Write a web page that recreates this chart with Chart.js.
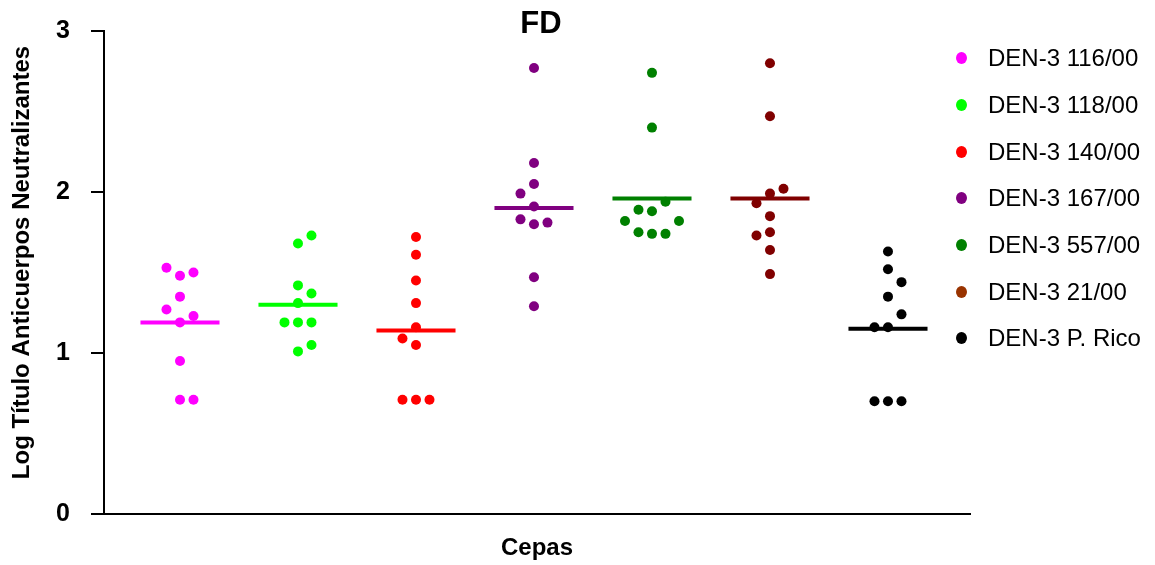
<!DOCTYPE html>
<html>
<head>
<meta charset="utf-8">
<script src="https://cdn.jsdelivr.net/npm/chart.js@4.4.0/dist/chart.umd.min.js"></script>
<style>
  body { margin: 0; background: #fff; }
  #wrap { position: relative; width: 1155px; height: 565px; }
  #legend { position: absolute; left: 956px; top: 35px; font-family: "Liberation Sans", Arial, sans-serif; font-size: 24px; color: #000; }
  .item { height: 46.7px; display: flex; align-items: center; }
  .dot { width: 11px; height: 12px; border-radius: 50%; margin-right: 21px; }
</style>
</head>
<body>
<div id="wrap">
  <canvas id="myChart" width="1155" height="565"></canvas>
  <div id="legend"></div>
</div>
<script>
const cepas = ['DEN-3 116/00', 'DEN-3 118/00', 'DEN-3 140/00', 'DEN-3 167/00', 'DEN-3 557/00', 'DEN-3 21/00', 'DEN-3 P. Rico'];

// log titres per strain
const den116 = [1.53, 1.48, 1.50, 1.35, 1.27, 1.23, 1.19, 0.95, 0.71, 0.71];
const den118 = [1.73, 1.68, 1.42, 1.37, 1.31, 1.19, 1.19, 1.19, 1.05, 1.01];
const den140 = [1.72, 1.61, 1.45, 1.31, 1.16, 1.09, 1.05, 0.71, 0.71, 0.71];
const den167 = [2.77, 2.18, 2.05, 1.99, 1.91, 1.83, 1.81, 1.80, 1.47, 1.29];
const den557 = [2.74, 2.40, 1.94, 1.89, 1.88, 1.82, 1.82, 1.75, 1.74, 1.74];
const den21 = [2.80, 2.47, 2.02, 1.99, 1.93, 1.85, 1.75, 1.73, 1.64, 1.49];
const denPR = [1.63, 1.52, 1.44, 1.35, 1.24, 1.16, 1.16, 0.70, 0.70, 0.70];

const medianas = [1.19, 1.30, 1.14, 1.90, 1.96, 1.96, 1.15];
const yTicks = [0, 1, 2, 3];

// side slot of each dot (dot plot spreading), -2..2
const jit116 = [-1, 0, 1, 0, -1, 1, 0, 0, 0, 1];
const jit118 = [1, 0, 0, 1, 0, -1, 0, 1, 1, 0];
const jit140 = [0, 0, 0, 0, 0, -1, 0, -1, 0, 1];
const jit167 = [0, 0, 0, -1, 0, -1, 1, 0, 0, 0];
const jit557 = [0, 0, 1, -1, 0, -2, 2, -1, 0, 1];
const jit21 = [0, 0, 1, 0, -1, 0, 0, -1, 0, 0];
const jitPR = [0, 0, 1, 0, 1, -1, 0, -1, 0, 1];

const colores = ['#ff00ff', '#00ff00', '#ff0000', '#800080', '#008000', '#800000', '#000000'];
const coloresLeyenda = ['#ff00ff', '#00ff00', '#ff0000', '#800080', '#008000', '#993300', '#000000'];

const valores = [den116, den118, den140, den167, den557, den21, denPR];
const jitters = [jit116, jit118, jit140, jit167, jit557, jit21, jitPR];
const paso = 0.1144;
const media = 0.335;

const datasets = [];
for (let i = 0; i < cepas.length; i++) {
    datasets.push({
        type: 'line',
        label: cepas[i] + ' mediana',
        data: [{x: i + 1 - media, y: medianas[i]}, {x: i + 1 + media, y: medianas[i]}],
        borderColor: colores[i],
        borderWidth: 4,
        pointRadius: 0,
        order: 2
    });
    datasets.push({
        type: 'scatter',
        label: cepas[i],
        data: valores[i].map((v, k) => ({x: i + 1 + jitters[i][k] * paso, y: v})),
        backgroundColor: colores[i],
        borderWidth: 0,
        pointRadius: 5,
        order: 1
    });
}

const ctx = document.getElementById('myChart');
const font = '"Liberation Sans", Arial, sans-serif';

// title "FD" sits partly over the top of the plot, so draw it by hand
const tituloFD = {
    id: 'tituloFD',
    afterDraw(chart) {
        const a = chart.chartArea;
        const c = chart.ctx;
        c.save();
        c.font = 'bold 31px ' + font;
        c.fillStyle = '#000';
        c.textAlign = 'center';
        c.textBaseline = 'middle';
        c.fillText('FD', (a.left + a.right) / 2 + 4, a.top - 7);
        c.restore();
    }
};

const myChart = new Chart(ctx, {
    data: { datasets: datasets },
    options: {
        responsive: false,
        animation: false,
        layout: { padding: { left: 0, right: 185, top: 31, bottom: 0 } },
        plugins: {
            legend: { display: false },
            tooltip: { enabled: false },
            title: { display: false }
        },
        scales: {
            x: {
                type: 'linear',
                min: 0.356,
                max: 7.695,
                ticks: { display: false },
                grid: { display: false },
                border: { display: true, color: '#000', width: 2 },
                title: {
                    display: true,
                    text: 'Cepas',
                    color: '#000',
                    font: { family: font, size: 24, weight: 'bold' },
                    padding: { top: 0, bottom: 2 }
                },
                afterFit: function (scale) { scale.height = 51; }
            },
            y: {
                min: 0,
                max: 3,
                afterBuildTicks: function (scale) { scale.ticks = yTicks.map(v => ({value: v})); },
                ticks: {
                    color: '#000',
                    padding: 21,
                    font: { family: font, size: 25, weight: 'bold' }
                },
                grid: { display: true, drawOnChartArea: false, drawTicks: true, tickLength: 13, color: '#000', lineWidth: 2 },
                border: { display: true, color: '#000', width: 2 },
                title: {
                    display: true,
                    text: '   Log Título Anticuerpos Neutralizantes',
                    color: '#000',
                    font: { family: font, size: 24, weight: 'bold' },
                    padding: { top: 8, bottom: 0 }
                },
                afterFit: function (scale) {
                    scale.width = 104;
                    scale.paddingTop = 0;
                    scale.paddingBottom = 0;
                }
            }
        }
    },
    plugins: [tituloFD]
});

const legend = document.getElementById('legend');
for (let i = 0; i < cepas.length; i++) {
    const row = document.createElement('div');
    row.className = 'item';
    row.innerHTML = '<span class="dot" style="background:' + coloresLeyenda[i] + '"></span><span>' + cepas[i] + '</span>';
    legend.appendChild(row);
}
</script>
</body>
</html>
